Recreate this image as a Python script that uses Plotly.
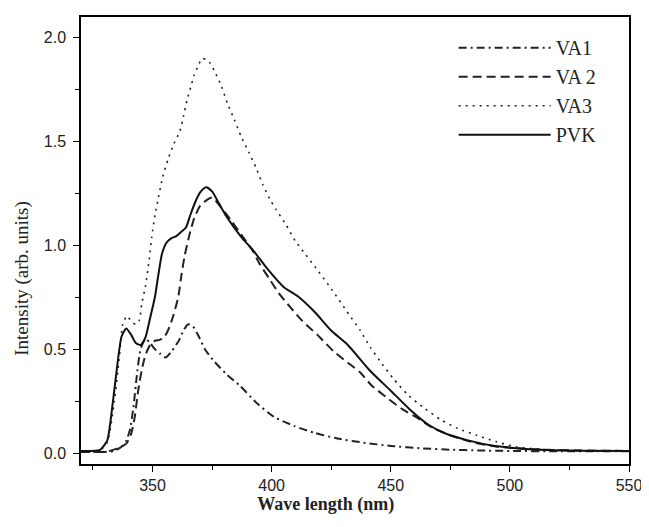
import plotly.graph_objects as go

# ---- data ----
va1_x = [320, 330, 334, 337, 339, 340.5, 342, 343.5, 345, 347, 349, 351, 353, 355.5, 358, 361, 363, 365, 367,
         369.5, 372, 376, 381, 386.5, 394, 401, 409.5, 418, 427.5, 438.5, 450, 463.5, 475, 487, 500, 520, 550]
va1_y = [0.005, 0.005, 0.01, 0.03, 0.06, 0.11, 0.22, 0.38, 0.50, 0.55, 0.53, 0.50, 0.48, 0.46, 0.49, 0.54, 0.59,
         0.62, 0.61, 0.56, 0.50, 0.44, 0.38, 0.326, 0.238, 0.174, 0.13, 0.097, 0.07, 0.05, 0.034, 0.022, 0.016,
         0.012, 0.01, 0.008, 0.008]

va2_x = [320, 328, 332, 336, 339, 341, 342.5, 344, 345.5, 347, 349, 351, 353, 355, 356.5, 358.7, 360.8, 362.2,
         363.5, 365.5, 367.5, 370, 373, 375, 379, 383, 388, 392, 395, 399, 403, 408, 413, 420, 426, 432, 437,
         442, 448, 455, 461, 467, 475, 485, 495, 510, 530, 550]
va2_y = [0.005, 0.005, 0.01, 0.025, 0.045, 0.09, 0.17, 0.30, 0.40, 0.47, 0.52, 0.54, 0.545, 0.56, 0.59, 0.66,
         0.75, 0.86, 0.95, 1.05, 1.13, 1.19, 1.22, 1.23, 1.18, 1.12, 1.04, 0.975, 0.91, 0.84, 0.77, 0.70, 0.635,
         0.56, 0.49, 0.435, 0.39, 0.325, 0.27, 0.21, 0.17, 0.125, 0.085, 0.05, 0.03, 0.018, 0.012, 0.01]

va3_x = [320, 328, 331, 334, 336, 337.5, 339.3, 341.4, 343, 344.5, 345.5, 347, 348.6, 349.7, 351.1, 352.5, 354.3,
         356.7, 359, 361.5, 363, 364.5, 366, 367.5, 369, 370.8, 372.5, 374, 376, 379, 381.4, 384.4, 387.2,
         390.4, 393.5, 396.3, 399.7, 401.8, 406, 410, 414, 418, 425.4, 432.3, 437.2, 441.4, 446.3, 451.1,
         457.4, 464.3, 471.3, 478.2, 486, 494.3, 502.5, 510, 525, 550]
va3_y = [0.01, 0.015, 0.05, 0.25, 0.45, 0.62, 0.66, 0.63, 0.62, 0.64, 0.72, 0.80, 0.93, 1.04, 1.15, 1.23, 1.33,
         1.42, 1.49, 1.55, 1.62, 1.70, 1.76, 1.82, 1.86, 1.90, 1.895, 1.88, 1.84, 1.765, 1.685, 1.605, 1.525,
         1.45, 1.373, 1.293, 1.213, 1.174, 1.10, 1.02, 0.96, 0.90, 0.785, 0.67, 0.59, 0.51, 0.43, 0.358, 0.278,
         0.214, 0.158, 0.118, 0.086, 0.054, 0.03, 0.02, 0.012, 0.01]

pvk_x = [320, 325, 328, 331, 333, 335, 337, 339, 341, 343, 345, 347, 349, 351, 352.5, 354, 356, 358, 360, 362,
         364, 366, 368, 370, 372.5, 375, 378, 381, 384, 388, 392, 398, 405, 411, 418, 425, 432, 441, 450, 458,
         466, 473, 482, 493, 504, 515, 530, 550]
pvk_y = [0.01, 0.01, 0.015, 0.06, 0.21, 0.40, 0.56, 0.60, 0.57, 0.53, 0.52, 0.555, 0.65, 0.75, 0.86, 0.96,
         1.015, 1.035, 1.045, 1.065, 1.085, 1.15, 1.21, 1.255, 1.28, 1.26, 1.20, 1.14, 1.09, 1.03, 0.98, 0.89,
         0.80, 0.755, 0.68, 0.59, 0.52, 0.40, 0.30, 0.21, 0.135, 0.094, 0.062, 0.035, 0.022, 0.014, 0.011, 0.01]

series_names = ["VA1", "VA 2", "VA3", "PVK"]
x_ticks = [350, 400, 450, 500, 550]
y_ticks = [0.0, 0.5, 1.0, 1.5, 2.0]
y_tick_text = ["0.0", "0.5", "1.0", "1.5", "2.0"]

serif = "Liberation Serif"
sans = "Liberation Sans"

fig = go.Figure()
styles = [
    dict(color="#222", width=2, dash="8px,4px,2px,4px"),
    dict(color="#222", width=2, dash="9px,5px"),
    dict(color="#222", width=1.6, dash="2px,5px"),
    dict(color="#111", width=2, dash="solid"),
]
for name, xs, ys, st in zip(series_names, [va1_x, va2_x, va3_x, pvk_x],
                            [va1_y, va2_y, va3_y, pvk_y], styles):
    fig.add_trace(go.Scatter(x=xs, y=ys, mode="lines", name=name,
                             line=dict(shape="spline", smoothing=0.6, **st)))

axis_common = dict(showline=True, linecolor="black", linewidth=1.5, mirror=True,
                   ticks="outside", ticklen=6, tickwidth=1.2, tickcolor="black",
                   showgrid=False, zeroline=False)

fig.update_xaxes(range=[320, 550], tickvals=x_ticks,
                 tickfont=dict(family=sans, size=16, color="#222"),
                 minor=dict(dtick=25, tick0=325, ticks="outside", ticklen=4, tickcolor="black"),
                 title=dict(text="<b>Wave length (nm)</b>" + "&nbsp;" * 13,
                            font=dict(family=serif, size=18, color="#222"), standoff=4),
                 **axis_common)
fig.update_yaxes(range=[-0.053, 2.1], tickvals=y_ticks, ticktext=y_tick_text,
                 tickfont=dict(family=sans, size=16, color="#222"), ticklabelstandoff=4,
                 minor=dict(dtick=0.25, tick0=0, ticks="outside", ticklen=4, tickcolor="black"),
                 title=dict(text="Intensity (arb. units)" + "&nbsp;" * 16,
                            font=dict(family=serif, size=19, color="#222"), standoff=10),
                 **axis_common)

# the page body has an 8px default margin, so the figure is sized/offset to compensate
fig.update_layout(
    width=641, height=519,
    margin=dict(l=73, r=15, t=7, b=63),
    paper_bgcolor="white", plot_bgcolor="white",
    showlegend=True,
    legend=dict(x=0.68, y=0.975, xanchor="left", yanchor="top",
                bgcolor="rgba(0,0,0,0)", borderwidth=0,
                font=dict(family=serif, size=20, color="#222"),
                itemwidth=92, tracegroupgap=0),
)

fig.write_html("out.html")
